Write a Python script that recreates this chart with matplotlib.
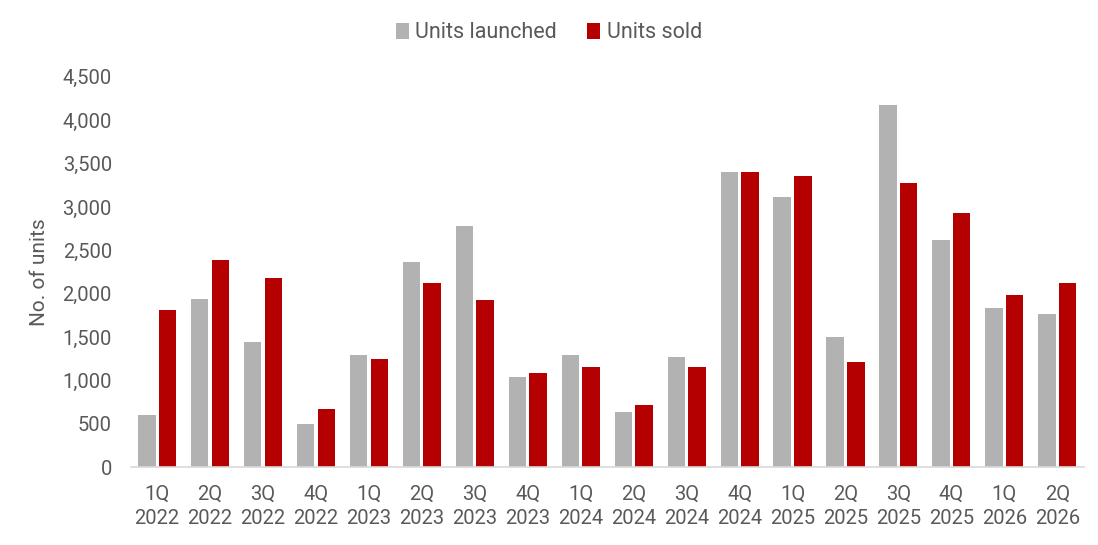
import matplotlib.pyplot as plt
import numpy as np

plt.rcParams["font.family"] = ["Roboto", "DejaVu Sans"]

quarters = ["1Q\n2022", "2Q\n2022", "3Q\n2022", "4Q\n2022",
            "1Q\n2023", "2Q\n2023", "3Q\n2023", "4Q\n2023",
            "1Q\n2024", "2Q\n2024", "3Q\n2024", "4Q\n2024",
            "1Q\n2025", "2Q\n2025", "3Q\n2025", "4Q\n2025",
            "1Q\n2026", "2Q\n2026"]
units_launched = [600, 1935, 1440, 500, 1290, 2370, 2780, 1040,
                  1290, 630, 1270, 3400, 3120, 1500, 4170, 2620, 1830, 1770]
units_sold = [1810, 2390, 2185, 670, 1250, 2120, 1930, 1080,
              1150, 710, 1150, 3400, 3360, 1210, 3280, 2930, 1990, 2120]

text_col = "#595959"
grey = "#B2B2B2"
red = "#B40000"

fig = plt.figure(figsize=(10.98, 5.45), dpi=100)
ax = fig.add_axes([0.119, 0.143, 0.868, 0.716])

x = np.arange(len(quarters))
w = 0.33
ax.bar(x - 0.195, units_launched, w, color=grey, label="Units launched")
ax.bar(x + 0.195, units_sold, w, color=red, label="Units sold")

ax.set_xlim(-0.5, len(quarters) - 0.5)
ax.set_ylim(0, 4500)
ax.set_yticks(np.arange(0, 4501, 500))
ax.set_yticklabels([f"{v:,}" for v in range(0, 4501, 500)])
ax.set_xticks(x)
ax.set_xticklabels(quarters, linespacing=1.3)

for s in ["top", "right", "left"]:
    ax.spines[s].set_visible(False)
ax.spines["bottom"].set_color("#D9D9D9")
ax.spines["bottom"].set_linewidth(1.2)
ax.tick_params(axis="both", length=0, labelsize=14.5, colors=text_col)
ax.tick_params(axis="y", pad=13.5)
ax.tick_params(axis="x", pad=13)

ax.set_ylabel("No. of units", fontsize=15, color=text_col, labelpad=10)

fig.legend(loc="center", bbox_to_anchor=(0.5, 0.94), ncol=2, frameon=False,
           fontsize=15.5, labelcolor=text_col, handlelength=0.6,
           handleheight=0.75, handletextpad=0.3, columnspacing=1.4)

fig.savefig("out.png", dpi=100)
